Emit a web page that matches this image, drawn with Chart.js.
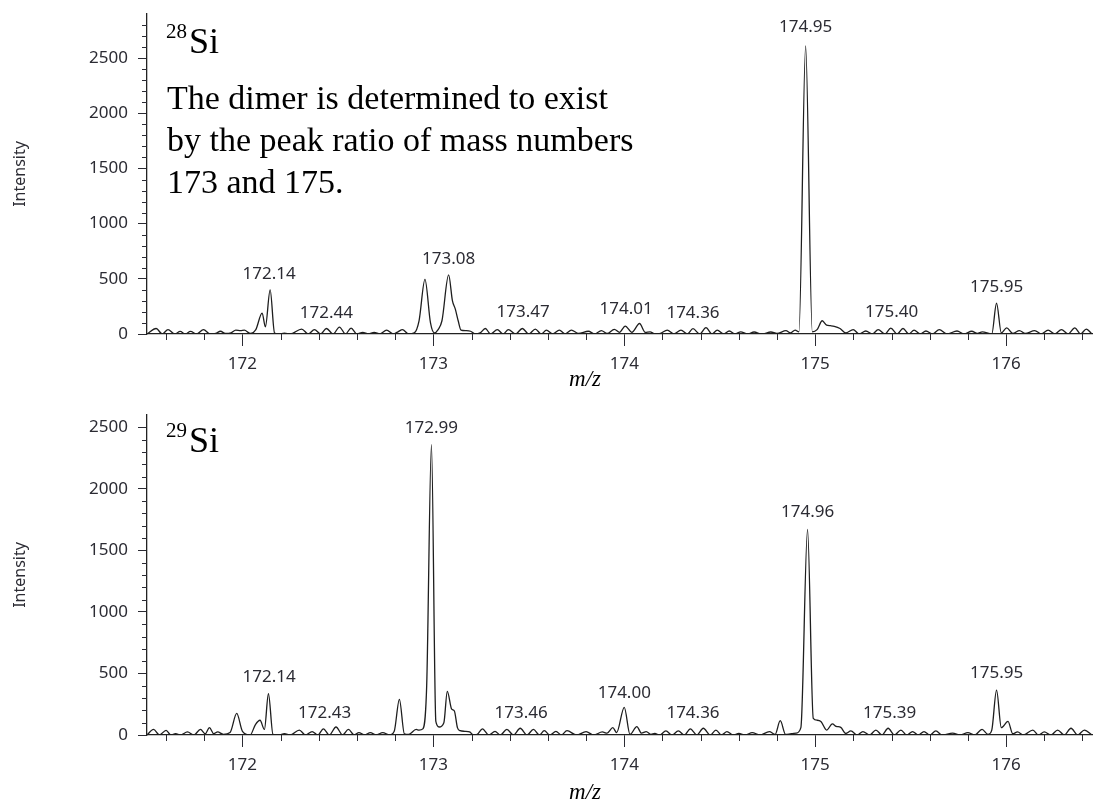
<!DOCTYPE html>
<html>
<head>
<meta charset="utf-8">
<script src="https://cdn.jsdelivr.net/npm/chart.js@4.4.1/dist/chart.umd.min.js"></script>
<style>
  html, body { margin: 0; padding: 0; background: #fff; }
  #wrap { position: relative; width: 1093px; height: 805px; overflow: hidden; }
  canvas { position: absolute; left: 0; }
  #c28 { top: 0; }
  #c29 { top: 400px; }
</style>
</head>
<body>
<div id="wrap">
  <canvas id="c28" width="1093" height="400"></canvas>
  <canvas id="c29" width="1093" height="405"></canvas>
</div>
<script>
// axis ticks (labelled)
const mzTicks = [172, 173, 174, 175, 176];
const intTicks = [0, 500, 1000, 1500, 2000, 2500];

// ---- 28Si spectrum (m/z, intensity) ----
const mz28 = [
  171.50, 171.548, 171.58, 171.61, 171.645, 171.674, 171.70, 171.728, 171.76, 171.796,
  171.83, 171.86, 171.885, 171.91, 171.94, 171.965, 171.99, 172.01, 172.04, 172.07,
  172.103, 172.12, 172.145, 172.168, 172.19, 172.22, 172.25, 172.31, 172.345, 172.377,
  172.41, 172.44, 172.475, 172.508, 172.54, 172.569, 172.60, 172.63, 172.66, 172.69,
  172.72, 172.755, 172.79, 172.815, 172.838, 172.87, 172.90, 172.925, 172.956, 172.985,
  173.005, 173.025, 173.045, 173.08, 173.10, 173.115, 173.13, 173.145, 173.17, 173.195,
  173.22, 173.245, 173.272, 173.30, 173.335, 173.365, 173.393, 173.43, 173.466, 173.50,
  173.534, 173.565, 173.592, 173.625, 173.66, 173.69, 173.723, 173.76, 173.812, 173.845,
  173.88, 173.91, 173.948, 173.975, 174.005, 174.04, 174.08, 174.11, 174.135, 174.16,
  174.19, 174.225, 174.26, 174.297, 174.33, 174.36, 174.395, 174.428, 174.46, 174.487,
  174.52, 174.55, 174.58, 174.61, 174.645, 174.68, 174.72, 174.768, 174.80, 174.847,
  174.87, 174.895, 174.915, 174.95, 174.985, 175.01, 175.037, 175.06, 175.08, 175.10,
  175.13, 175.16, 175.199, 175.23, 175.265, 175.30, 175.33, 175.365, 175.396, 175.43,
  175.46, 175.49, 175.518, 175.55, 175.58, 175.615, 175.65, 175.69, 175.743, 175.78,
  175.82, 175.85, 175.875, 175.925, 175.95, 175.975, 176.003, 176.035, 176.07, 176.10,
  176.15, 176.185, 176.22, 176.255, 176.29, 176.325, 176.36, 176.39, 176.42, 176.45
];
const int28 = [
  0, 50, 0, 40, 0, 24, 0, 24, 0, 40,
  0, 5, 25, 5, 10, 35, 30, 35, 5, 40,
  190, 65, 400, 10, 0, 8, 0, 45, 0, 40,
  0, 50, 0, 63, 0, 54, 0, 15, 0, 15,
  0, 36, 0, 20, 40, 0, 10, 120, 495, 100,
  10, 40, 120, 535, 300, 225, 120, 35, 30, 25,
  0, 10, 50, 0, 40, 0, 40, 0, 50, 0,
  45, 0, 35, 0, 35, 0, 35, 5, 25, 0,
  30, 5, 42, 15, 72, 15, 95, 15, 20, 0,
  5, 36, 0, 36, 0, 48, 0, 57, 0, 36,
  0, 27, 0, 20, 0, 18, 0, 18, 5, 30,
  10, 36, 20, 2610, 20, 40, 120, 80, 75, 70,
  50, 10, 40, 0, 27, 0, 40, 0, 54, 0,
  50, 0, 35, 0, 27, 0, 40, 0, 27, 0,
  25, 5, 20, 0, 280, 10, 55, 5, 30, 5,
  30, 0, 35, 0, 40, 0, 55, 0, 45, 0
];
const peaks28 = ['172.14', '172.44', '173.08', '173.47', '174.01', '174.36', '174.95', '175.40', '175.95'];
const peakLabelY28 = [543, 190, 680, 200, 226, 190, 2780, 200, 425];

// ---- 29Si spectrum (m/z, intensity) ----
const mz29 = [
  171.50, 171.534, 171.565, 171.60, 171.625, 171.65, 171.675, 171.712, 171.745, 171.78,
  171.805, 171.827, 171.85, 171.87, 171.90, 171.935, 171.97, 172.00, 172.04, 172.068,
  172.092, 172.115, 172.136, 172.16, 172.19, 172.22, 172.25, 172.298, 172.33, 172.365,
  172.395, 172.424, 172.455, 172.49, 172.525, 172.555, 172.585, 172.61, 172.64, 172.67,
  172.70, 172.735, 172.77, 172.795, 172.822, 172.848, 172.87, 172.91, 172.925, 172.945,
  172.965, 172.99, 173.013, 173.03, 173.055, 173.073, 173.096, 173.11, 173.126, 173.14,
  173.165, 173.19, 173.21, 173.23, 173.257, 173.29, 173.323, 173.35, 173.385, 173.42,
  173.455, 173.49, 173.524, 173.555, 173.581, 173.61, 173.642, 173.67, 173.70, 173.75,
  173.80, 173.84, 173.885, 173.91, 173.94, 173.96, 174.00, 174.03, 174.066, 174.09,
  174.115, 174.14, 174.16, 174.185, 174.218, 174.25, 174.283, 174.315, 174.346, 174.38,
  174.414, 174.45, 174.48, 174.51, 174.538, 174.57, 174.60, 174.635, 174.67, 174.71,
  174.76, 174.79, 174.817, 174.845, 174.875, 174.90, 174.925, 174.96, 174.99, 175.01,
  175.03, 175.06, 175.09, 175.11, 175.134, 175.16, 175.187, 175.22, 175.25, 175.285,
  175.318, 175.35, 175.382, 175.415, 175.449, 175.48, 175.51, 175.54, 175.57, 175.60,
  175.632, 175.665, 175.72, 175.76, 175.80, 175.835, 175.874, 175.905, 175.925, 175.95,
  175.975, 176.01, 176.035, 176.06, 176.09, 176.14, 176.17, 176.20, 176.235, 176.27,
  176.305, 176.34, 176.375, 176.41, 176.45
];
const int29 = [
  0, 45, 0, 38, 0, 10, 0, 25, 0, 45,
  10, 60, 10, 25, 5, 20, 175, 30, 0, 85,
  120, 45, 335, 5, 0, 10, 0, 40, 0, 28,
  0, 50, 0, 65, 0, 45, 0, 20, 0, 20,
  0, 20, 0, 30, 290, 10, 5, 45, 40, 50,
  400, 2360, 110, 65, 100, 355, 210, 195, 60, 35,
  30, 25, 0, 5, 50, 0, 30, 0, 45, 0,
  55, 0, 45, 0, 35, 0, 30, 0, 35, 0,
  27, 0, 25, 15, 60, 20, 225, 5, 68, 15,
  27, 5, 12, 0, 33, 0, 33, 0, 50, 0,
  55, 0, 40, 0, 27, 0, 12, 0, 20, 0,
  27, 5, 116, 5, 10, 15, 60, 1670, 135, 120,
  110, 40, 90, 70, 62, 12, 33, 0, 27, 0,
  40, 0, 55, 0, 40, 0, 27, 0, 27, 0,
  33, 0, 15, 0, 20, 0, 45, 5, 40, 365,
  60, 110, 10, 25, 0, 40, 0, 25, 0, 40,
  0, 55, 0, 40, 0
];
const peaks29 = ['172.14', '172.43', '172.99', '173.46', '174.00', '174.36', '174.96', '175.39', '175.95'];
const peakLabelY29 = [470, 180, 2490, 180, 340, 180, 1810, 180, 500];

const INK = '#2b2b33';
const SANS = '"Noto Sans", "Open Sans", sans-serif';
const SERIF = '"Liberation Serif", "DejaVu Serif", serif';

// minor ticks, peak labels and the serif annotations
const decor = {
  id: 'decor',
  afterDraw(chart, args, o) {
    const ctx = chart.ctx, xs = chart.scales.x, ys = chart.scales.y, a = chart.chartArea;
    ctx.save();
    ctx.strokeStyle = INK;
    ctx.lineWidth = 1;
    ctx.beginPath();
    for (let v = 100; v < ys.max; v += 100) {
      if (v % 500 === 0) continue;
      const py = Math.round(ys.getPixelForValue(v)) + 0.5;
      ctx.moveTo(a.left - 5, py); ctx.lineTo(a.left, py);
    }
    for (let i = 0; ; i++) {
      const v = 171.6 + i * 0.2;
      if (v > xs.max) break;
      if (Math.abs(v - Math.round(v)) < 1e-6) continue;
      const px = Math.round(xs.getPixelForValue(v)) + 0.5;
      ctx.moveTo(px, a.bottom); ctx.lineTo(px, a.bottom + 6);
    }
    ctx.stroke();

    ctx.fillStyle = INK;
    ctx.font = '17px ' + SANS;
    ctx.textAlign = 'center';
    ctx.textBaseline = 'middle';
    o.labels.forEach((t, i) => {
      ctx.fillText(t, xs.getPixelForValue(parseFloat(t)), ys.getPixelForValue(o.heights[i]));
    });

    ctx.fillStyle = '#000';
    ctx.textAlign = 'left';
    ctx.textBaseline = 'alphabetic';
    ctx.font = '21px ' + SERIF;
    ctx.fillText(o.mass, 166, o.isoY - 15);
    ctx.font = '36px ' + SERIF;
    ctx.fillText('Si', 189, o.isoY);
    ctx.font = '34px ' + SERIF;
    (o.lines || []).forEach((t, i) => ctx.fillText(t, 167, 109 + i * 42));

    ctx.font = 'italic 23px ' + SERIF;
    ctx.textAlign = 'center';
    ctx.fillText('m/z', 585, o.mzY);
    ctx.restore();
  }
};

function makeChart(id, mz, inten, ymax, top, bottomH, extra) {
  return new Chart(document.getElementById(id), {
    type: 'line',
    data: {
      datasets: [{
        data: mz.map((m, i) => ({ x: m, y: inten[i] })),
        borderColor: '#1e1e1e',
        borderWidth: 1.3,
        pointRadius: 0,
        fill: false,
        cubicInterpolationMode: 'monotone'
      }]
    },
    options: {
      responsive: false,
      animation: false,
      devicePixelRatio: 1,
      layout: { padding: { top: top, right: 1, left: 0, bottom: 0 } },
      plugins: { legend: { display: false }, tooltip: { enabled: false }, decor: extra },
      scales: {
        x: {
          type: 'linear', min: 171.5, max: 176.45,
          afterBuildTicks: s => { s.ticks = mzTicks.map(v => ({ value: v })); },
          afterFit: s => { s.height = bottomH; s.paddingLeft = 0; s.paddingRight = 0; },
          grid: { drawOnChartArea: false, tickLength: 12, tickColor: INK },
          border: { display: true, color: '#222', width: 1.3 },
          ticks: { color: INK, font: { family: SANS, size: 17 }, padding: 8, maxRotation: 0, callback: v => String(v) }
        },
        y: {
          min: 0, max: ymax,
          afterBuildTicks: s => { s.ticks = intTicks.filter(v => v <= ymax).map(v => ({ value: v })); },
          afterFit: s => { s.width = 147; s.paddingTop = 0; s.paddingBottom = 0; },
          grid: { drawOnChartArea: false, tickLength: 9, tickColor: INK },
          border: { display: true, color: '#222', width: 1.3 },
          ticks: { color: INK, font: { family: SANS, size: 17 }, padding: 10, callback: v => String(v) },
          title: { display: true, text: 'Intensity', color: INK, font: { family: SANS, size: 16 }, padding: { top: 11, bottom: 0 } }
        }
      }
    },
    plugins: [decor]
  });
}

makeChart('c28', mz28, int28, 2900, 14, 66, {
  labels: peaks28, heights: peakLabelY28, mass: '28', isoY: 53, mzY: 386,
  lines: ['The dimer is determined to exist', 'by the peak ratio of mass numbers', '173 and 175.']
});
makeChart('c29', mz29, int29, 2600, 15, 70, {
  labels: peaks29, heights: peakLabelY29, mass: '29', isoY: 52, mzY: 399
});
</script>
</body>
</html>
